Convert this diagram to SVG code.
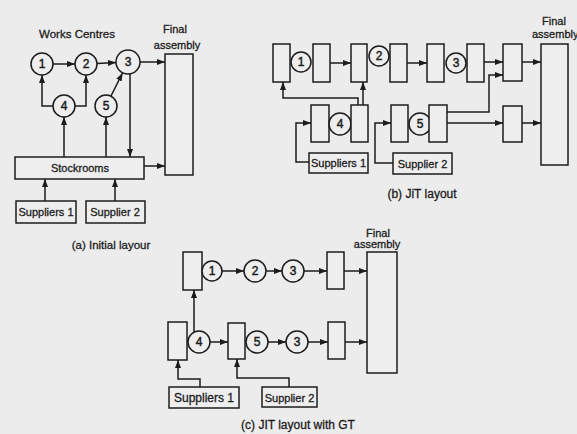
<svg xmlns="http://www.w3.org/2000/svg" width="577" height="434" viewBox="0 0 577 434">
<style>
.b{fill:#eeeeee;stroke:#1c1c1c;stroke-width:1.5}
.c{fill:#eeeeee;stroke:#1c1c1c;stroke-width:1.5}
.l{fill:none;stroke:#1c1c1c;stroke-width:1.5;marker-end:url(#ah)}
text{font-family:"Liberation Sans",Arial,sans-serif;fill:#1c1c1c;stroke:#1c1c1c;stroke-width:0.3;text-anchor:middle}
.t{font-size:11px}
.num{font-size:12px;stroke-width:0.45}
.cap{font-size:12px}
</style>
<defs>
<marker id="ah" markerUnits="userSpaceOnUse" markerWidth="9" markerHeight="6" refX="8" refY="3" orient="auto">
<path d="M0,0 L8,3 L0,6 z" fill="#1c1c1c"/>
</marker>
</defs>
<rect width="577" height="434" fill="#ececec"/>

<!-- (a) Initial layout -->
<g id="a-title"><text class="t" x="77" y="38" style="font-size:11.5px">Works Centres</text></g>
<g id="a-c1"><circle class="c" cx="42" cy="64" r="11"/><text class="num" x="42" y="68">1</text></g>
<g id="a-c2"><circle class="c" cx="86" cy="64" r="11"/><text class="num" x="86" y="68">2</text></g>
<g id="a-c3"><circle class="c" cx="128" cy="62" r="12"/><text class="num" x="128" y="66">3</text></g>
<g id="a-c4"><circle class="c" cx="64" cy="106" r="11"/><text class="num" x="64" y="110">4</text></g>
<g id="a-c5"><circle class="c" cx="106" cy="106" r="11"/><text class="num" x="106" y="110">5</text></g>
<g id="a-final"><rect class="b" x="165" y="54" width="28" height="121"/><text class="t" x="175" y="33">Final</text><text class="t" x="177" y="49">assembly</text></g>
<g id="a-stock"><rect class="b" x="15" y="157" width="129" height="22"/><text class="t" x="80" y="172">Stockrooms</text></g>
<g id="a-sup1"><rect class="b" x="16" y="201" width="60" height="22"/><text class="t" x="46" y="216">Suppliers 1</text></g>
<g id="a-sup2"><rect class="b" x="86" y="201" width="59" height="22"/><text class="t" x="115" y="216">Supplier 2</text></g>
<g id="a-label"><text class="cap" x="111" y="249" style="font-size:11.5px">(a) Initial layour</text></g>

<!-- (b) JiT layout -->
<g id="b-box1"><rect class="b" x="273" y="44" width="17" height="38"/></g>
<g id="b-c1"><circle class="c" cx="301" cy="62" r="10"/><text class="num" x="301" y="66">1</text></g>
<g id="b-box2"><rect class="b" x="313" y="44" width="17" height="38"/></g>
<g id="b-box3"><rect class="b" x="351" y="44" width="16" height="38"/></g>
<g id="b-c2"><circle class="c" cx="379" cy="56" r="10"/><text class="num" x="379" y="60">2</text></g>
<g id="b-box4"><rect class="b" x="390" y="44" width="17" height="38"/></g>
<g id="b-box5"><rect class="b" x="427" y="44" width="17" height="38"/></g>
<g id="b-c3"><circle class="c" cx="456" cy="63" r="10"/><text class="num" x="456" y="67">3</text></g>
<g id="b-box6"><rect class="b" x="467" y="44" width="17" height="38"/></g>
<g id="b-box7"><rect class="b" x="503" y="44" width="19" height="37"/></g>
<g id="b-final"><rect class="b" x="541" y="44" width="27" height="121"/><text class="t" x="554" y="25">Final</text><text class="t" x="532" y="38" style="text-anchor:start">assembly</text></g>
<g id="b-box10"><rect class="b" x="311" y="105" width="18" height="37"/></g>
<g id="b-c4"><circle class="c" cx="340" cy="124" r="11"/><text class="num" x="340" y="128">4</text></g>
<g id="b-box11"><rect class="b" x="351" y="105" width="17" height="37"/></g>
<g id="b-box12"><rect class="b" x="391" y="105" width="17" height="37"/></g>
<g id="b-c5"><circle class="c" cx="420" cy="124" r="11"/><text class="num" x="420" y="128">5</text></g>
<g id="b-box13"><rect class="b" x="429" y="105" width="18" height="37"/></g>
<g id="b-box14"><rect class="b" x="503" y="106" width="19" height="36"/></g>
<g id="b-sup1"><rect class="b" x="309" y="153" width="59" height="20"/><text class="t" x="338.5" y="167">Suppliers 1</text></g>
<g id="b-sup2"><rect class="b" x="393" y="153" width="59" height="21"/><text class="t" x="422.5" y="167.5">Supplier 2</text></g>
<g id="b-label"><text class="cap" x="422" y="198">(b) JiT layout</text></g>

<!-- (c) JIT layout with GT -->
<g id="c-box1"><rect class="b" x="183" y="252" width="19" height="38"/></g>
<g id="c-c1"><circle class="c" cx="212" cy="271" r="10"/><text class="num" x="212" y="275">1</text></g>
<g id="c-c2"><circle class="c" cx="255" cy="271" r="11"/><text class="num" x="255" y="275">2</text></g>
<g id="c-c3"><circle class="c" cx="293" cy="271" r="11"/><text class="num" x="293" y="275">3</text></g>
<g id="c-box2"><rect class="b" x="327" y="252" width="17" height="37"/></g>
<g id="c-final"><rect class="b" x="367" y="252" width="30" height="121"/><text class="t" x="378" y="237">Final</text><text class="t" x="377" y="248">assembly</text></g>
<g id="c-box3"><rect class="b" x="168" y="322" width="19" height="38"/></g>
<g id="c-c4"><circle class="c" cx="199" cy="342" r="11"/><text class="num" x="199" y="346">4</text></g>
<g id="c-box4"><rect class="b" x="228" y="323" width="17" height="36"/></g>
<g id="c-c5"><circle class="c" cx="257" cy="342" r="11"/><text class="num" x="257" y="346">5</text></g>
<g id="c-c3b"><circle class="c" cx="297" cy="342" r="11"/><text class="num" x="297" y="346">3</text></g>
<g id="c-box5"><rect class="b" x="328" y="322" width="17" height="37"/></g>
<g id="c-sup1"><rect class="b" x="169" y="387" width="70" height="21"/><text class="cap" x="204" y="402">Suppliers 1</text></g>
<g id="c-sup2"><rect class="b" x="262" y="387" width="55" height="20"/><text class="cap" x="289.5" y="401.5" style="font-size:11px">Supplier 2</text></g>
<g id="c-label"><text class="cap" x="298" y="429">(c) JIT layout with GT</text></g>

<g id="connectors">
<!-- (a) -->
<path class="l" d="M53,64 H75"/>
<path class="l" d="M97,63.5 L116,62.5"/>
<path class="l" d="M140,62 H165"/>
<path class="l" d="M53,106 H42 V75"/>
<path class="l" d="M75,106 H86 V75"/>
<path class="l" d="M111,96 L122.5,73"/>
<path class="l" d="M64,157 V117"/>
<path class="l" d="M106,157 V117"/>
<path class="l" d="M130,74 V157"/>
<path class="l" d="M144,166 H165"/>
<path class="l" d="M45,201 V179"/>
<path class="l" d="M115,201 V179"/>
<!-- (b) -->
<path class="l" d="M330,63 H351"/>
<path class="l" d="M407,63 H427"/>
<path class="l" d="M484,62 H503"/>
<path class="l" d="M522,62 H541"/>
<path class="l" d="M358,105 V98 H283 V82"/>
<path class="l" d="M363,105 V82"/>
<path class="l" d="M447,112 H489 V75 H503"/>
<path class="l" d="M447,123 H503"/>
<path class="l" d="M522,123 H541"/>
<path class="l" d="M309,162 H296 V123 H311"/>
<path class="l" d="M393,163 H375 V123 H391"/>
<!-- (c) -->
<path class="l" d="M222,271 H244"/>
<path class="l" d="M266,271 H282"/>
<path class="l" d="M304,271 H327"/>
<path class="l" d="M344,271 H367"/>
<path class="l" d="M210,342 H228"/>
<path class="l" d="M268,342 H286"/>
<path class="l" d="M308,342 H328"/>
<path class="l" d="M345,342 H367"/>
<path class="l" d="M194,332 V290"/>
<path class="l" d="M200,387 V379 H178 V360"/>
<path class="l" d="M289,387 V378 H237 V359"/>
</g>
</svg>
